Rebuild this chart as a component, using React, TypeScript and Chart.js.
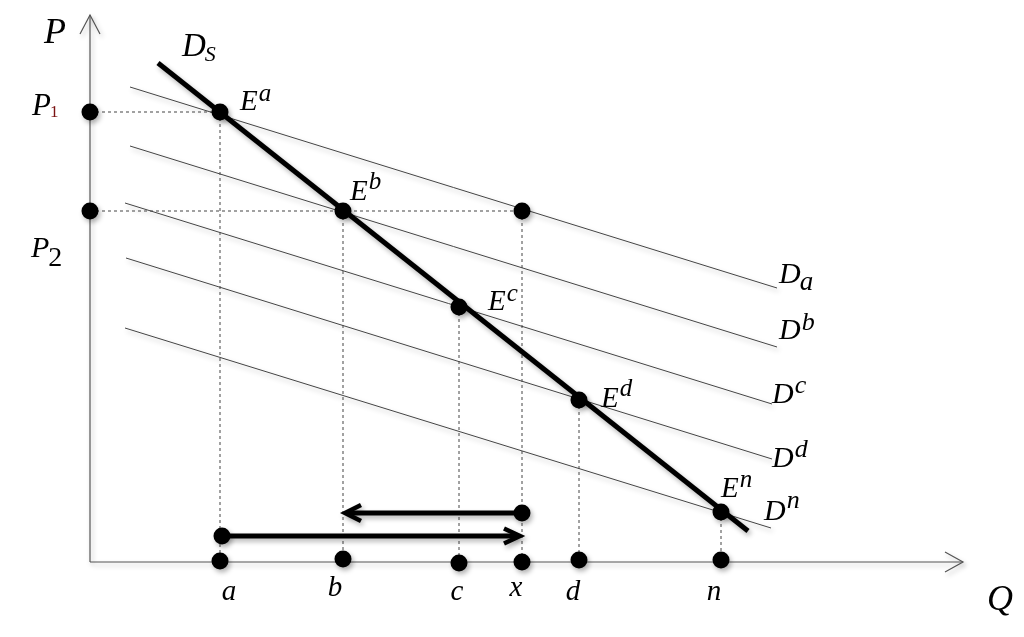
import React, { useEffect, useRef } from "react";
import { Chart, registerables } from "chart.js";

Chart.register(...registerables);

// ---- Data (Q, P in diagram units) ----
const EQ_LABELS = ["a", "b", "c", "d", "n"];
const EQ_Q = [13, 25.3, 36.9, 48.9, 63.1];
const EQ_P = [45, 35.1, 25.5, 16.2, 5.0];

const SUPPLY_Q = [6.8, 65.8];
const SUPPLY_P = [49.9, 3.1];

const DEMAND_NAMES = ["Da", "Db", "Dc", "Dd", "Dn"];
const DEMAND_START_Q = [4, 4, 3.5, 3.6, 3.5];
const DEMAND_START_P = [47.5, 41.6, 35.9, 30.4, 23.4];
const DEMAND_END_Q = [68.7, 68.7, 68.2, 68.2, 68.1];
const DEMAND_END_P = [27.4, 21.5, 15.8, 10.3, 3.4];

const P1 = 45;
const P2 = 35.1;
const X_Q = 43.2;

const AXIS_DOT_NAMES = ["a", "b", "c", "x", "d", "n"];
const AXIS_DOT_Q = [13, 25.3, 36.9, 43.2, 48.9, 63.1];
const AXIS_DOT_P = [0.1, 0.3, -0.1, 0, 0.2, 0.2];

const ARROW_RIGHT_Q = [13.2, 43.0];
const ARROW_RIGHT_P = 2.6;
const ARROW_LEFT_Q = [43.2, 25.5];
const ARROW_LEFT_P = 4.9;

const Q_AXIS_MAX = 87.3;
const P_AXIS_MAX = 54.7;

type Lbl = {
  q: number;
  p: number;
  main: string;
  size: number;
  extra?: string;
  extraSize?: number;
  shift?: number; // positive = down (subscript), negative = up (superscript)
  extraItalic?: boolean;
  extraColor?: string;
  align?: "left" | "center";
};

const LABELS: Lbl[] = [
  { q: -4.6, p: 51.9, main: "P", size: 36 },
  { q: 9.2, p: 50.6, main: "D", size: 33, extra: "S", extraSize: 22, shift: 5, extraItalic: true },
  { q: -5.8, p: 44.7, main: "P", size: 31, extra: "1", extraSize: 17, shift: 2, extraItalic: false, extraColor: "#7a1212" },
  { q: -5.9, p: 30.5, main: "P", size: 30, extra: "2", extraSize: 28, shift: 9, extraItalic: false },
  { q: 15.0, p: 45.2, main: "E", size: 29, extra: "a", extraSize: 25, shift: -9, extraItalic: true },
  { q: 26.0, p: 36.2, main: "E", size: 29, extra: "b", extraSize: 25, shift: -11, extraItalic: true },
  { q: 39.8, p: 25.2, main: "E", size: 29, extra: "c", extraSize: 25, shift: -9, extraItalic: true },
  { q: 51.1, p: 15.5, main: "E", size: 29, extra: "d", extraSize: 25, shift: -11, extraItalic: true },
  { q: 63.1, p: 6.5, main: "E", size: 29, extra: "n", extraSize: 25, shift: -10, extraItalic: true },
  { q: 68.9, p: 27.9, main: "D", size: 30, extra: "a", extraSize: 27, shift: 7, extraItalic: true },
  { q: 68.9, p: 22.3, main: "D", size: 30, extra: "b", extraSize: 26, shift: -9, extraItalic: true },
  { q: 68.2, p: 15.9, main: "D", size: 30, extra: "c", extraSize: 26, shift: -10, extraItalic: true },
  { q: 68.2, p: 9.5, main: "D", size: 30, extra: "d", extraSize: 26, shift: -10, extraItalic: true },
  { q: 67.4, p: 4.2, main: "D", size: 30, extra: "n", extraSize: 26, shift: -12, extraItalic: true },
  { q: 13.9, p: -3.8, main: "a", size: 29, align: "center" },
  { q: 24.5, p: -3.4, main: "b", size: 29, align: "center" },
  { q: 36.7, p: -3.8, main: "c", size: 29, align: "center" },
  { q: 42.6, p: -3.4, main: "x", size: 29, align: "center" },
  { q: 48.3, p: -3.8, main: "d", size: 29, align: "center" },
  { q: 62.4, p: -3.8, main: "n", size: 29, align: "center" },
  { q: 89.7, p: -4.8, main: "Q", size: 36 },
];

const FONT = '"Liberation Serif", "DejaVu Serif", serif';

function pts(qs: number[], ps: number[]) {
  return qs.map((q, i) => ({ x: q, y: ps[i] }));
}

function chevron(tipQ: number, tipP: number, dir: number, len: number, half: number) {
  return [
    { x: tipQ - dir * len, y: tipP + half },
    { x: tipQ, y: tipP },
    { x: tipQ - dir * len, y: tipP - half },
  ];
}

const shadowPlugin = {
  id: "shadow",
  beforeDatasetDraw(chart: any, args: any) {
    const ctx = chart.ctx;
    ctx.save();
    const ds = chart.data.datasets[args.index];
    if (!ds.noShadow) {
      ctx.shadowColor = "rgba(0,0,0,0.3)";
      ctx.shadowBlur = 5;
      ctx.shadowOffsetX = 2;
      ctx.shadowOffsetY = 3;
    }
  },
  afterDatasetDraw(chart: any) {
    chart.ctx.restore();
  },
};

const textPlugin = {
  id: "texts",
  afterDraw(chart: any) {
    const ctx = chart.ctx;
    const xs = chart.scales.x;
    const ys = chart.scales.y;
    ctx.save();
    ctx.fillStyle = "#000";
    ctx.textBaseline = "alphabetic";
    for (const l of LABELS) {
      const x = xs.getPixelForValue(l.q);
      const y = ys.getPixelForValue(l.p);
      ctx.font = `italic ${l.size}px ${FONT}`;
      ctx.fillStyle = "#000";
      ctx.textAlign = l.align === "center" ? "center" : "left";
      ctx.fillText(l.main, x, y);
      if (l.extra) {
        const w = ctx.measureText(l.main).width;
        ctx.textAlign = "left";
        ctx.font = `${l.extraItalic ? "italic " : ""}${l.extraSize}px ${FONT}`;
        ctx.fillStyle = l.extraColor || "#000";
        ctx.fillText(l.extra, x + w + (l.shift && l.shift < 0 ? 1 : -1), y + (l.shift || 0));
      }
    }
    ctx.restore();
  },
};

export default function App() {
  const ref = useRef<HTMLCanvasElement | null>(null);

  useEffect(() => {
    if (!ref.current) return;
    const axisColor = "#555";
    const datasets: any[] = [];

    // axes
    datasets.push({ data: [{ x: 0, y: 0 }, { x: 0, y: P_AXIS_MAX }], borderColor: axisColor, borderWidth: 1.2, order: 6 });
    datasets.push({ data: [{ x: 0, y: 0 }, { x: Q_AXIS_MAX, y: 0 }], borderColor: axisColor, borderWidth: 1.2, order: 6 });
    datasets.push({ data: [{ x: -1, y: P_AXIS_MAX - 1.9 }, { x: 0, y: P_AXIS_MAX }, { x: 1, y: P_AXIS_MAX - 1.9 }], borderColor: axisColor, borderWidth: 1.2, order: 6 });
    datasets.push({ data: [{ x: Q_AXIS_MAX - 1.8, y: 1 }, { x: Q_AXIS_MAX, y: 0 }, { x: Q_AXIS_MAX - 1.8, y: -1 }], borderColor: axisColor, borderWidth: 1.2, order: 6 });

    // demand lines
    DEMAND_NAMES.forEach((_, i) => {
      datasets.push({
        data: [{ x: DEMAND_START_Q[i], y: DEMAND_START_P[i] }, { x: DEMAND_END_Q[i], y: DEMAND_END_P[i] }],
        borderColor: "#444",
        borderWidth: 1,
        order: 5,
      });
    });

    // dashed guide lines
    const dash = { borderColor: "#444", borderWidth: 1, borderDash: [3, 3], order: 4, noShadow: true };
    datasets.push({ ...dash, data: [{ x: 0, y: P1 }, { x: EQ_Q[0], y: P1 }] });
    datasets.push({ ...dash, data: [{ x: 0, y: P2 }, { x: X_Q, y: P2 }] });
    EQ_Q.forEach((q, i) => {
      datasets.push({ ...dash, data: [{ x: q, y: EQ_P[i] }, { x: q, y: 0 }] });
    });
    datasets.push({ ...dash, data: [{ x: X_Q, y: P2 }, { x: X_Q, y: 0 }] });

    // supply line
    datasets.push({ data: pts(SUPPLY_Q, SUPPLY_P), borderColor: "#000", borderWidth: 5, order: 3 });

    // arrows
    const arrowStyle = { borderColor: "#000", borderWidth: 5, order: 2, borderCapStyle: "butt", borderJoinStyle: "miter" };
    datasets.push({ ...arrowStyle, data: [{ x: ARROW_RIGHT_Q[0], y: ARROW_RIGHT_P }, { x: ARROW_RIGHT_Q[1] - 0.3, y: ARROW_RIGHT_P }] });
    datasets.push({ ...arrowStyle, borderWidth: 4.5, data: chevron(ARROW_RIGHT_Q[1], ARROW_RIGHT_P, 1, 1.6, 0.75) });
    datasets.push({ ...arrowStyle, data: [{ x: ARROW_LEFT_Q[0], y: ARROW_LEFT_P }, { x: ARROW_LEFT_Q[1] + 0.3, y: ARROW_LEFT_P }] });
    datasets.push({ ...arrowStyle, borderWidth: 4.5, data: chevron(ARROW_LEFT_Q[1], ARROW_LEFT_P, -1, 1.6, 0.8) });

    // dots
    const dots = [
      ...pts(EQ_Q, EQ_P),
      { x: 0, y: P1 },
      { x: 0, y: P2 },
      { x: X_Q, y: P2 },
      ...pts(AXIS_DOT_Q, AXIS_DOT_P),
      { x: ARROW_RIGHT_Q[0], y: ARROW_RIGHT_P },
      { x: ARROW_LEFT_Q[0], y: ARROW_LEFT_P },
    ];
    datasets.push({
      data: dots,
      showLine: false,
      pointRadius: 8.5,
      pointBackgroundColor: "#000",
      pointBorderColor: "#000",
      pointBorderWidth: 0,
      order: 0,
    });

    datasets.forEach((d) => {
      if (d.showLine === undefined) d.showLine = true;
      if (d.pointRadius === undefined) d.pointRadius = 0;
      d.fill = false;
      d.tension = 0;
    });

    const chart = new Chart(ref.current, {
      type: "scatter",
      data: { datasets },
      options: {
        animation: false,
        responsive: false,
        layout: { padding: 0, autoPadding: false },
        events: [],
        plugins: { legend: { display: false }, tooltip: { enabled: false } },
        scales: {
          x: { type: "linear", min: -9, max: 93.4, display: false },
          y: { type: "linear", min: -7.5, max: 56.2, display: false },
        },
      },
      plugins: [shadowPlugin, textPlugin],
    });
    return () => chart.destroy();
  }, []);

  return (
    <div style={{ position: "fixed", left: 0, top: 0, width: 1024, height: 637, background: "#fff" }}>
      <canvas ref={ref} width={1024} height={637} />
    </div>
  );
}
